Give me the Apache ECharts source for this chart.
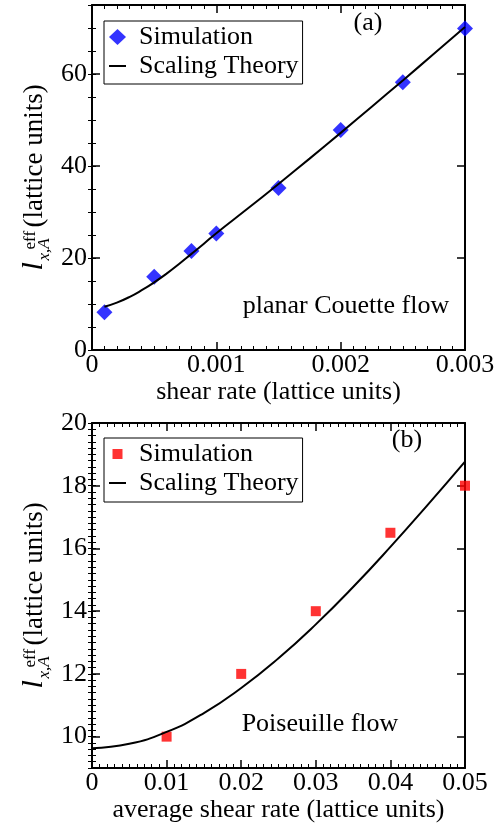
<!DOCTYPE html>
<html>
<head>
<meta charset="utf-8">
<script src="https://cdn.jsdelivr.net/npm/echarts@6/dist/echarts.min.js"></script>
<style>html,body{margin:0;padding:0;background:#fff}#c{width:502px;height:826px}</style>
</head>
<body>
<div id="c"></div>
<script>
// ---- data: panel (a) planar Couette flow ----
const aSimX = [0.0001, 0.0005, 0.0008, 0.001, 0.0015, 0.002, 0.0025, 0.003];
const aSimY = [8.2, 15.9, 21.5, 25.3, 35.2, 47.8, 58.2, 69.9];
const aThX = [0.0001, 0.0002, 0.0003, 0.0004, 0.0005, 0.0006, 0.0007, 0.0008, 0.0009, 0.001, 0.00125, 0.0015, 0.00175, 0.002, 0.00225, 0.0025, 0.00275, 0.003];
const aThY = [9.4, 10.3, 11.5, 13.0, 14.7, 16.6, 18.7, 20.9, 23.1, 25.4, 30.7, 36.1, 41.6, 47.2, 52.9, 58.6, 64.4, 70.2];
// ---- data: panel (b) Poiseuille flow ----
const bSimX = [0.01, 0.02, 0.03, 0.04, 0.05];
const bSimY = [10, 12, 14, 16.5, 18];
const bThX = [0, 0.005, 0.01, 0.015, 0.02, 0.025, 0.03, 0.035, 0.04, 0.045, 0.05];
const bThY = [9.63, 9.77, 10.15, 10.75, 11.55, 12.5, 13.58, 14.77, 16.05, 17.39, 18.77];
// ---- tick labels ----
const aYTicks = [0, 20, 40, 60];
const bYTicks = [10, 12, 14, 16, 18, 20];

const FF = '"Liberation Serif", "Times New Roman", serif';
const BLK = '#000';
const pairs = (xs, ys) => xs.map((x, i) => [x, ys[i]]);

function xMain(grid, min, max, interval, name, gap) {
  return {
    type: 'value', gridIndex: grid, position: 'bottom', min, max, interval,
    name, nameLocation: 'middle', nameGap: gap,
    nameTextStyle: { fontFamily: FF, fontSize: 26, color: BLK },
    axisLine: { show: true, onZero: false, lineStyle: { color: BLK, width: 2 } },
    axisTick: { show: true, inside: true, length: 8, lineStyle: { color: BLK, width: 1.5 } },
    minorTick: { show: true, splitNumber: 10, length: 4, lineStyle: { color: BLK, width: 1 } },
    axisLabel: { show: true, fontFamily: FF, fontSize: 26, color: BLK, margin: 2 },
    splitLine: { show: false }, minorSplitLine: { show: false }
  };
}
function xTop(grid, min, max, interval) {
  return {
    type: 'value', gridIndex: grid, position: 'top', min, max, interval,
    axisLine: { show: true, onZero: false, lineStyle: { color: BLK, width: 2 } },
    axisTick: { show: true, inside: true, length: 8, lineStyle: { color: BLK, width: 1.5 } },
    minorTick: { show: true, splitNumber: 10, length: 4, lineStyle: { color: BLK, width: 1 } },
    axisLabel: { show: false }, splitLine: { show: false }
  };
}
function yMajor(grid, pos, min, max, interval, ticks, labels) {
  return {
    type: 'value', gridIndex: grid, position: pos, offset: 0, min, max, interval,
    axisLine: { show: true, onZero: false, lineStyle: { color: BLK, width: 2 } },
    axisTick: { show: true, inside: true, length: 8, customValues: ticks, lineStyle: { color: BLK, width: 1.5 } },
    axisLabel: { show: labels, customValues: ticks, fontFamily: FF, fontSize: 26, color: BLK, margin: 5,
      formatter: v => (ticks.indexOf(v) >= 0 ? String(v) : '') },
    splitLine: { show: false }
  };
}
function yMinor(grid, pos, min, max, interval) {
  return {
    type: 'value', gridIndex: grid, position: pos, offset: 0, min, max, interval,
    axisLine: { show: false },
    axisTick: { show: true, inside: true, length: 4, lineStyle: { color: BLK, width: 1 } },
    axisLabel: { show: false }, splitLine: { show: false }
  };
}

function yTitle(cy) {
  return {
    type: 'group', x: 44, y: cy, rotation: Math.PI / 2, silent: true,
    children: [
      { type: 'text', x: -93, y: -10, style: { text: 'l', font: 'italic 30px ' + FF, fill: BLK, align: 'left', verticalAlign: 'middle' } },
      { type: 'text', x: -83, y: 1, style: { text: 'x,A', font: 'italic 17px ' + FF, fill: BLK, align: 'left', verticalAlign: 'middle' } },
      { type: 'text', x: -72, y: -13, style: { text: 'eff', font: '17px ' + FF, fill: BLK, align: 'left', verticalAlign: 'middle' } },
      { type: 'text', x: -50, y: -9.2, style: { text: '(lattice units)', font: '27px ' + FF, fill: BLK, align: 'left', verticalAlign: 'middle' } }
    ]
  };
}
function note(x, y, text) {
  return { type: 'text', x, y, silent: true, style: { text, font: '26px ' + FF, fill: BLK, align: 'center', verticalAlign: 'middle' } };
}

const legendText = { fontFamily: FF, fontSize: 26, color: BLK, lineHeight: 22, padding: [0, 0, 0, 8] };
const lineIconA = 'path://M0,0 M17,16 M0,7 L17,7 L17,9 L0,9 Z';
const lineIconB = 'path://M0,0 M17,14 M0,6 L17,6 L17,8 L0,8 Z';

const option = {
  animation: false,
  backgroundColor: '#fff',
  grid: [
    { left: 92, top: 5, width: 373, height: 345, containLabel: false },
    { left: 92, top: 423, width: 373, height: 345, containLabel: false }
  ],
  xAxis: [
    xMain(0, 0, 0.003, 0.001, 'shear rate (lattice units)', 26),
    xTop(0, 0, 0.003, 0.001),
    xMain(1, 0, 0.05, 0.01, 'average shear rate (lattice units)', 25),
    xTop(1, 0, 0.05, 0.01)
  ],
  yAxis: [
    yMajor(0, 'left', 0, 75, 20, aYTicks, true),
    yMinor(0, 'left', 0, 75, 5),
    yMajor(0, 'right', 0, 75, 20, aYTicks, false),
    yMinor(0, 'right', 0, 75, 5),
    yMajor(1, 'left', 9, 20, 1, bYTicks, true),
    yMinor(1, 'left', 9, 20, 0.2),
    yMajor(1, 'right', 9, 20, 1, bYTicks, false),
    yMinor(1, 'right', 9, 20, 0.2)
  ],
  legend: [
    {
      left: 104, top: 21, orient: 'vertical', selectedMode: false,
      itemWidth: 17, itemHeight: 16, itemGap: 3, padding: [3, 4, 5, 5],
      borderColor: BLK, borderWidth: 1, textStyle: legendText,
      data: [{ name: 'Simulation', icon: 'diamond' },
             { name: 'Scaling Theory', icon: lineIconA, itemStyle: { color: BLK } }]
    },
    {
      left: 104, top: 438, orient: 'vertical', selectedMode: false,
      itemWidth: 17, itemHeight: 14, itemGap: 3, padding: [3, 4, 6, 5],
      borderColor: BLK, borderWidth: 1, textStyle: legendText,
      formatter: n => n.replace(' (b)', ''),
      data: [{ name: 'Simulation (b)', icon: 'path://M0,0 M17,14 M3.5,2 L13.5,2 L13.5,12 L3.5,12 Z' },
             { name: 'Scaling Theory (b)', icon: lineIconB, itemStyle: { color: BLK } }]
    }
  ],
  series: [
    { name: 'Simulation', type: 'scatter', xAxisIndex: 0, yAxisIndex: 0, symbol: 'diamond', symbolSize: 16,
      itemStyle: { color: '#0000ff' }, clip: false, z: 2, data: pairs(aSimX, aSimY) },
    { name: 'Scaling Theory', type: 'line', xAxisIndex: 0, yAxisIndex: 0, symbol: 'none', smooth: true,
      lineStyle: { color: BLK, width: 2 }, itemStyle: { color: BLK }, z: 3, data: pairs(aThX, aThY) },
    { name: 'Simulation (b)', type: 'scatter', xAxisIndex: 2, yAxisIndex: 4, symbol: 'rect', symbolSize: 10,
      itemStyle: { color: '#ff0000' }, clip: false, z: 2, data: pairs(bSimX, bSimY) },
    { name: 'Scaling Theory (b)', type: 'line', xAxisIndex: 2, yAxisIndex: 4, symbol: 'none', smooth: true,
      lineStyle: { color: BLK, width: 2 }, itemStyle: { color: BLK }, z: 3, data: pairs(bThX, bThY) }
  ],
  graphic: [
    yTitle(177.5),
    yTitle(595.5),
    note(368, 23, '(a)'),
    note(346, 306, 'planar Couette flow'),
    note(407, 440, '(b)'),
    note(320, 724, 'Poiseuille flow')
  ]
};
const chart = echarts.init(document.getElementById('c'), null, { renderer: 'canvas' });
chart.setOption(option);
</script>
</body>
</html>
